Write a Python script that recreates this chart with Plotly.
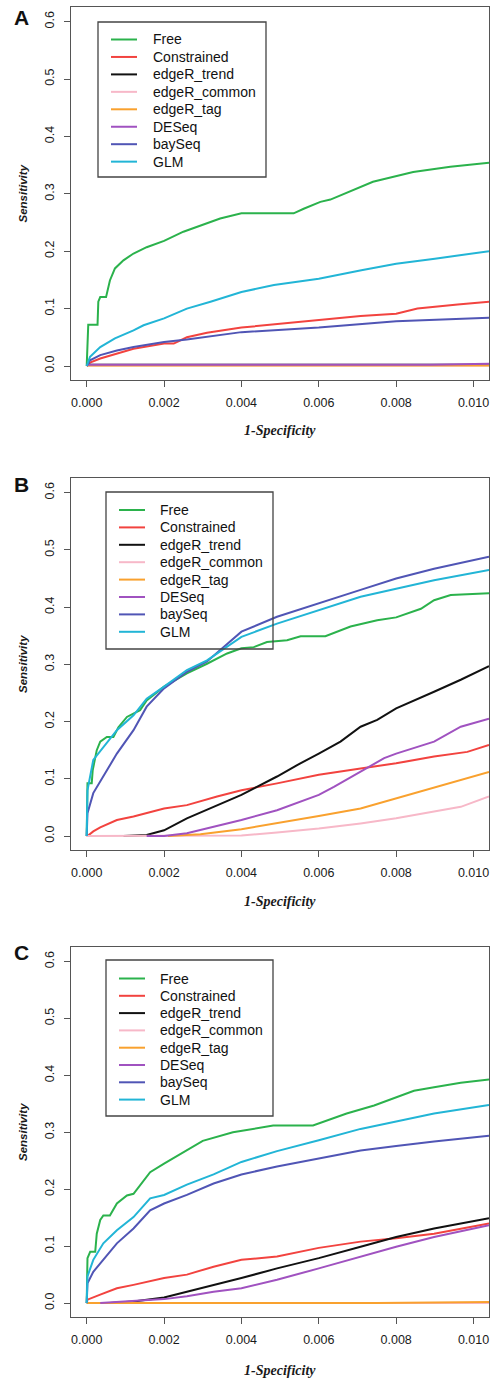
import plotly.graph_objects as go

W, H = 493, 1379

# ---------------- data ----------------
series_names = ["Free", "Constrained", "edgeR_trend", "edgeR_common",
                "edgeR_tag", "DESeq", "baySeq", "GLM"]
series_colors = ["#2BB24C", "#F2433F", "#111111", "#F7B8C8",
                 "#F9A12E", "#A052C0", "#5055B5", "#22B5D6"]
panel_labels = ["A", "B", "C"]
x_tick_vals = [0.000, 0.002, 0.004, 0.006, 0.008, 0.010]
x_tick_text = ["0.000", "0.002", "0.004", "0.006", "0.008", "0.010"]
y_tick_vals = [0.0, 0.1, 0.2, 0.3, 0.4, 0.5, 0.6]
y_tick_text = ["0.0", "0.1", "0.2", "0.3", "0.4", "0.5", "0.6"]
x_title = "1-Specificity"
y_title = "Sensitivity"

# ---- Panel A ----
A_free_x = [0, 0.00002, 0.00004, 0.00028, 0.0003, 0.00035, 0.0005, 0.0006, 0.00073, 0.00095,
            0.00121, 0.00155, 0.002, 0.0025, 0.00294, 0.00345, 0.004, 0.00535, 0.00561,
            0.00604, 0.0063, 0.00655, 0.0074, 0.00844, 0.0094, 0.0104]
A_free_y = [0, 0.04, 0.072, 0.072, 0.112, 0.12, 0.12, 0.149, 0.17, 0.184,
            0.196, 0.207, 0.218, 0.234, 0.245, 0.257, 0.266, 0.266, 0.274,
            0.286, 0.29, 0.297, 0.321, 0.338, 0.347, 0.354]
A_con_x = [0, 0.000086, 0.00035, 0.00078, 0.00121, 0.002, 0.00225, 0.00259, 0.00311, 0.004,
           0.00492, 0.006, 0.00708, 0.008, 0.00855, 0.00959, 0.0104]
A_con_y = [0, 0.006, 0.013, 0.022, 0.03, 0.039, 0.039, 0.05, 0.058, 0.067,
           0.073, 0.08, 0.087, 0.091, 0.1, 0.107, 0.112]
A_trend_x = [0, 0.00002, 0.0104]
A_trend_y = [0, 0.002, 0.002]
A_common_x = [0, 0.00002, 0.0104]
A_common_y = [0, 0.001, 0.001]
A_tag_x = [0, 0.00002, 0.0104]
A_tag_y = [0, 0.001, 0.001]
A_deseq_x = [0, 0.00002, 0.0089, 0.0104]
A_deseq_y = [0, 0.002, 0.002, 0.004]
A_bay_x = [0, 0.000086, 0.00035, 0.00078, 0.00121, 0.002, 0.00259, 0.004, 0.006, 0.008, 0.0104]
A_bay_y = [0, 0.01, 0.019, 0.027, 0.033, 0.042, 0.046, 0.059, 0.067, 0.078, 0.084]
A_glm_x = [0, 0.000086, 0.00035, 0.00073, 0.00121, 0.00147, 0.002, 0.00259, 0.0032, 0.004,
           0.00484, 0.006, 0.0071, 0.008, 0.009, 0.0104]
A_glm_y = [0, 0.016, 0.033, 0.048, 0.062, 0.071, 0.083, 0.1, 0.112, 0.129,
           0.141, 0.152, 0.167, 0.178, 0.187, 0.2]

# ---- Panel B ----
B_free_x = [0, 0.00002, 0.00013, 0.000155, 0.00026, 0.00035, 0.00052, 0.00069, 0.00082, 0.00104,
            0.00138, 0.00155, 0.002, 0.00259, 0.00311, 0.00363, 0.004, 0.00432, 0.00466,
            0.00518, 0.00553, 0.00617, 0.00682, 0.00751, 0.008, 0.00864, 0.00898, 0.00941, 0.0104]
B_free_y = [0, 0.092, 0.092, 0.115, 0.15, 0.165, 0.173, 0.173, 0.19, 0.208,
            0.22, 0.237, 0.261, 0.284, 0.301, 0.319, 0.328, 0.33, 0.339,
            0.342, 0.349, 0.349, 0.366, 0.377, 0.382, 0.397, 0.412, 0.421, 0.424]
B_con_x = [0, 0.00002, 0.00017, 0.00035, 0.00078, 0.00121, 0.002, 0.00259, 0.00337, 0.004,
           0.00492, 0.006, 0.00708, 0.008, 0.00898, 0.00984, 0.0104]
B_con_y = [0, 0.0, 0.008, 0.015, 0.028, 0.034, 0.048, 0.054, 0.069, 0.08,
           0.092, 0.107, 0.118, 0.127, 0.139, 0.147, 0.159]
B_trend_x = [0.00095, 0.00155, 0.002, 0.00259, 0.00328, 0.004, 0.00492, 0.00544, 0.006,
             0.00656, 0.00708, 0.00751, 0.008, 0.00855, 0.00898, 0.00967, 0.0104]
B_trend_y = [0, 0.002, 0.01, 0.031, 0.051, 0.072, 0.104, 0.124, 0.144,
             0.165, 0.191, 0.203, 0.223, 0.24, 0.252, 0.273, 0.297]
B_common_x = [0, 0.004, 0.00492, 0.006, 0.00708, 0.008, 0.00898, 0.00967, 0.0104]
B_common_y = [0, 0.001, 0.006, 0.013, 0.022, 0.031, 0.043, 0.051, 0.069]
B_tag_x = [0.0021, 0.00294, 0.004, 0.00492, 0.006, 0.00708, 0.008, 0.00898, 0.0104]
B_tag_y = [0, 0.003, 0.012, 0.022, 0.035, 0.048, 0.066, 0.084, 0.112]
B_deseq_x = [0.00155, 0.002, 0.00259, 0.00328, 0.004, 0.00492, 0.00553, 0.006, 0.00639,
             0.00708, 0.00769, 0.008, 0.00855, 0.00898, 0.00967, 0.0104]
B_deseq_y = [0, 0.0, 0.005, 0.016, 0.028, 0.045, 0.06, 0.072, 0.086,
             0.112, 0.136, 0.144, 0.156, 0.165, 0.191, 0.205]
B_bay_x = [0, 0.00002, 0.00017, 0.00043, 0.00078, 0.00121, 0.00155, 0.002, 0.00259, 0.00311,
           0.004, 0.00492, 0.006, 0.00708, 0.008, 0.00898, 0.0104]
B_bay_y = [0, 0.04, 0.075, 0.104, 0.144, 0.185, 0.226, 0.258, 0.287, 0.305,
           0.357, 0.383, 0.407, 0.43, 0.45, 0.467, 0.488]
B_glm_x = [0, 0.00002, 0.00017, 0.00043, 0.00078, 0.00121, 0.00155, 0.002, 0.00259, 0.00311,
           0.004, 0.00492, 0.006, 0.00708, 0.008, 0.00898, 0.0104]
B_glm_y = [0, 0.08, 0.133, 0.156, 0.185, 0.211, 0.24, 0.261, 0.29, 0.307,
           0.348, 0.371, 0.394, 0.418, 0.432, 0.447, 0.465]

# ---- Panel C ----
C_free_x = [0, 0.00002, 0.00009, 0.00022, 0.00026, 0.00035, 0.00043, 0.0006, 0.00078, 0.00104,
            0.00121, 0.00164, 0.002, 0.00241, 0.003, 0.00378, 0.00482, 0.00585, 0.0062,
            0.00672, 0.00743, 0.008, 0.00846, 0.00898, 0.00967, 0.0104]
C_free_y = [0, 0.079, 0.09, 0.09, 0.122, 0.146, 0.154, 0.154, 0.175, 0.189,
            0.192, 0.23, 0.245, 0.262, 0.285, 0.3, 0.312, 0.312, 0.32,
            0.333, 0.347, 0.361, 0.373, 0.379, 0.387, 0.393]
C_con_x = [0, 0.00002, 0.00035, 0.00078, 0.00121, 0.002, 0.00259, 0.00328, 0.004, 0.00492,
           0.006, 0.00708, 0.008, 0.00898, 0.0104]
C_con_y = [0, 0.006, 0.015, 0.026, 0.032, 0.044, 0.05, 0.064, 0.076, 0.082,
           0.097, 0.108, 0.114, 0.122, 0.14]
C_trend_x = [0.0006, 0.00121, 0.002, 0.00259, 0.00328, 0.004, 0.00492, 0.006, 0.00708,
             0.008, 0.00898, 0.0104]
C_trend_y = [0, 0.003, 0.01, 0.02, 0.032, 0.044, 0.061, 0.079, 0.099,
             0.116, 0.131, 0.149]
C_common_x = [0, 0.0104]
C_common_y = [0, 0.0]
C_tag_x = [0, 0.0075, 0.0104]
C_tag_y = [0, 0.0, 0.002]
C_deseq_x = [0.00035, 0.002, 0.00259, 0.00328, 0.004, 0.00492, 0.006, 0.00708, 0.008,
             0.00898, 0.0104]
C_deseq_y = [0, 0.007, 0.012, 0.02, 0.026, 0.041, 0.061, 0.082, 0.099,
             0.116, 0.137]
C_bay_x = [0, 0.00002, 0.00017, 0.00043, 0.00078, 0.00121, 0.00164, 0.002, 0.00259, 0.00328,
           0.004, 0.00492, 0.006, 0.00708, 0.008, 0.00898, 0.0104]
C_bay_y = [0, 0.035, 0.055, 0.076, 0.105, 0.131, 0.163, 0.175, 0.19, 0.21,
           0.226, 0.24, 0.254, 0.268, 0.276, 0.284, 0.294]
C_glm_x = [0, 0.00002, 0.00017, 0.00043, 0.00078, 0.00121, 0.00164, 0.002, 0.00259, 0.00328,
           0.004, 0.00492, 0.006, 0.00708, 0.008, 0.00898, 0.0104]
C_glm_y = [0, 0.047, 0.076, 0.105, 0.128, 0.151, 0.184, 0.19, 0.208, 0.226,
           0.248, 0.267, 0.286, 0.306, 0.319, 0.333, 0.348]

panels = [
    [(A_free_x, A_free_y), (A_con_x, A_con_y), (A_trend_x, A_trend_y), (A_common_x, A_common_y),
     (A_tag_x, A_tag_y), (A_deseq_x, A_deseq_y), (A_bay_x, A_bay_y), (A_glm_x, A_glm_y)],
    [(B_free_x, B_free_y), (B_con_x, B_con_y), (B_trend_x, B_trend_y), (B_common_x, B_common_y),
     (B_tag_x, B_tag_y), (B_deseq_x, B_deseq_y), (B_bay_x, B_bay_y), (B_glm_x, B_glm_y)],
    [(C_free_x, C_free_y), (C_con_x, C_con_y), (C_trend_x, C_trend_y), (C_common_x, C_common_y),
     (C_tag_x, C_tag_y), (C_deseq_x, C_deseq_y), (C_bay_x, C_bay_y), (C_glm_x, C_glm_y)],
]

# ---------------- layout geometry (pixels) ----------------
def xp(px):
    return px / W

def yp(py):
    return 1 - py / H

plot_left, plot_right = 71, 489
plot_boxes = [(7, 380), (478, 850), (947, 1317)]          # top, bottom
legend_boxes = [  # left, top, right, bottom, first row y, row step, line x0, line x1, text x
    (98, 22, 266, 177, 39.5, 17.45, 111, 137, 151),
    (106, 492, 273, 649, 510, 17.4, 119, 145, 158),
    (106, 960, 273, 1116, 978.5, 17.3, 119, 145, 158),
]
panel_label_y = [17.5, 485, 952]
x_title_y = [430, 901, 1370]

SANS = "Liberation Sans, Arial, Helvetica, sans-serif"
SERIF = "Liberation Serif, Times New Roman, serif"
AX = "#555555"

fig = go.Figure()
layout = dict(
    width=W, height=H, margin=dict(l=0, r=0, t=0, b=0),
    paper_bgcolor="white", plot_bgcolor="white", showlegend=False,
    font=dict(family=SANS, size=12, color="#222"),
)
shapes, annotations = [], []

for p, curves in enumerate(panels):
    sfx = "" if p == 0 else str(p + 1)
    for (xs, ys), name, col in zip(curves, series_names, series_colors):
        fig.add_trace(go.Scatter(x=xs, y=ys, mode="lines", name=name,
                                 line=dict(color=col, width=2),
                                 xaxis="x" + sfx, yaxis="y" + sfx, showlegend=False))
    top, bot = plot_boxes[p]
    common = dict(showline=True, mirror=True, linecolor=AX, linewidth=1.3,
                  ticks="outside", ticklen=6, tickcolor=AX, tickwidth=1.2,
                  showgrid=False, zeroline=False,
                  tickfont=dict(family=SANS, size=12.5, color="#1a1a1a"))
    layout["xaxis" + sfx] = dict(domain=[xp(plot_left), xp(plot_right)],
                                 range=[-0.000406, 0.0104], anchor="y" + sfx,
                                 tickvals=x_tick_vals, ticktext=x_tick_text,
                                 ticklabelstandoff=5, **common)
    layout["yaxis" + sfx] = dict(domain=[yp(bot), yp(top)],
                                 range=[-0.0244, 0.6255], anchor="x" + sfx,
                                 tickvals=y_tick_vals, ticktext=y_tick_text,
                                 tickangle=-90, ticklabelstandoff=5, **common)
    # axis titles
    annotations.append(dict(text="<i><b>" + x_title + "</b></i>", xref="paper", yref="paper",
                            x=xp(280), y=yp(x_title_y[p]), showarrow=False,
                            xanchor="center", yanchor="middle",
                            font=dict(family=SERIF, size=14, color="#1a1a1a")))
    annotations.append(dict(text="<i><b>" + y_title + "</b></i>", xref="paper", yref="paper",
                            x=xp(23), y=yp((top + bot) / 2), showarrow=False, textangle=-90,
                            xanchor="center", yanchor="middle",
                            font=dict(family=SANS, size=11.5, color="#1a1a1a")))
    # panel label
    annotations.append(dict(text="<b>" + panel_labels[p] + "</b>", xref="paper", yref="paper",
                            x=xp(21), y=yp(panel_label_y[p]), showarrow=False,
                            xanchor="center", yanchor="middle",
                            font=dict(family=SANS, size=21, color="#111")))
    # legend (box + keys)
    L, T, R, B, r0, dr, lx0, lx1, tx = legend_boxes[p]
    shapes.append(dict(type="rect", xref="paper", yref="paper",
                       x0=xp(L), x1=xp(R), y0=yp(B), y1=yp(T),
                       line=dict(color="#444", width=1.3), fillcolor="rgba(0,0,0,0)"))
    for i, (name, col) in enumerate(zip(series_names, series_colors)):
        ry = r0 + i * dr
        shapes.append(dict(type="line", xref="paper", yref="paper",
                           x0=xp(lx0), x1=xp(lx1), y0=yp(ry), y1=yp(ry),
                           line=dict(color=col, width=2)))
        annotations.append(dict(text=name, xref="paper", yref="paper",
                                x=xp(tx), y=yp(ry), showarrow=False,
                                xanchor="left", yanchor="middle",
                                font=dict(family=SANS, size=14, color="#111")))

layout["shapes"] = shapes
layout["annotations"] = annotations
fig.update_layout(**layout)
fig.write_html("out.html", config={"displayModeBar": False},
               post_script="document.body.style.margin='0';document.body.style.overflow='hidden';")
